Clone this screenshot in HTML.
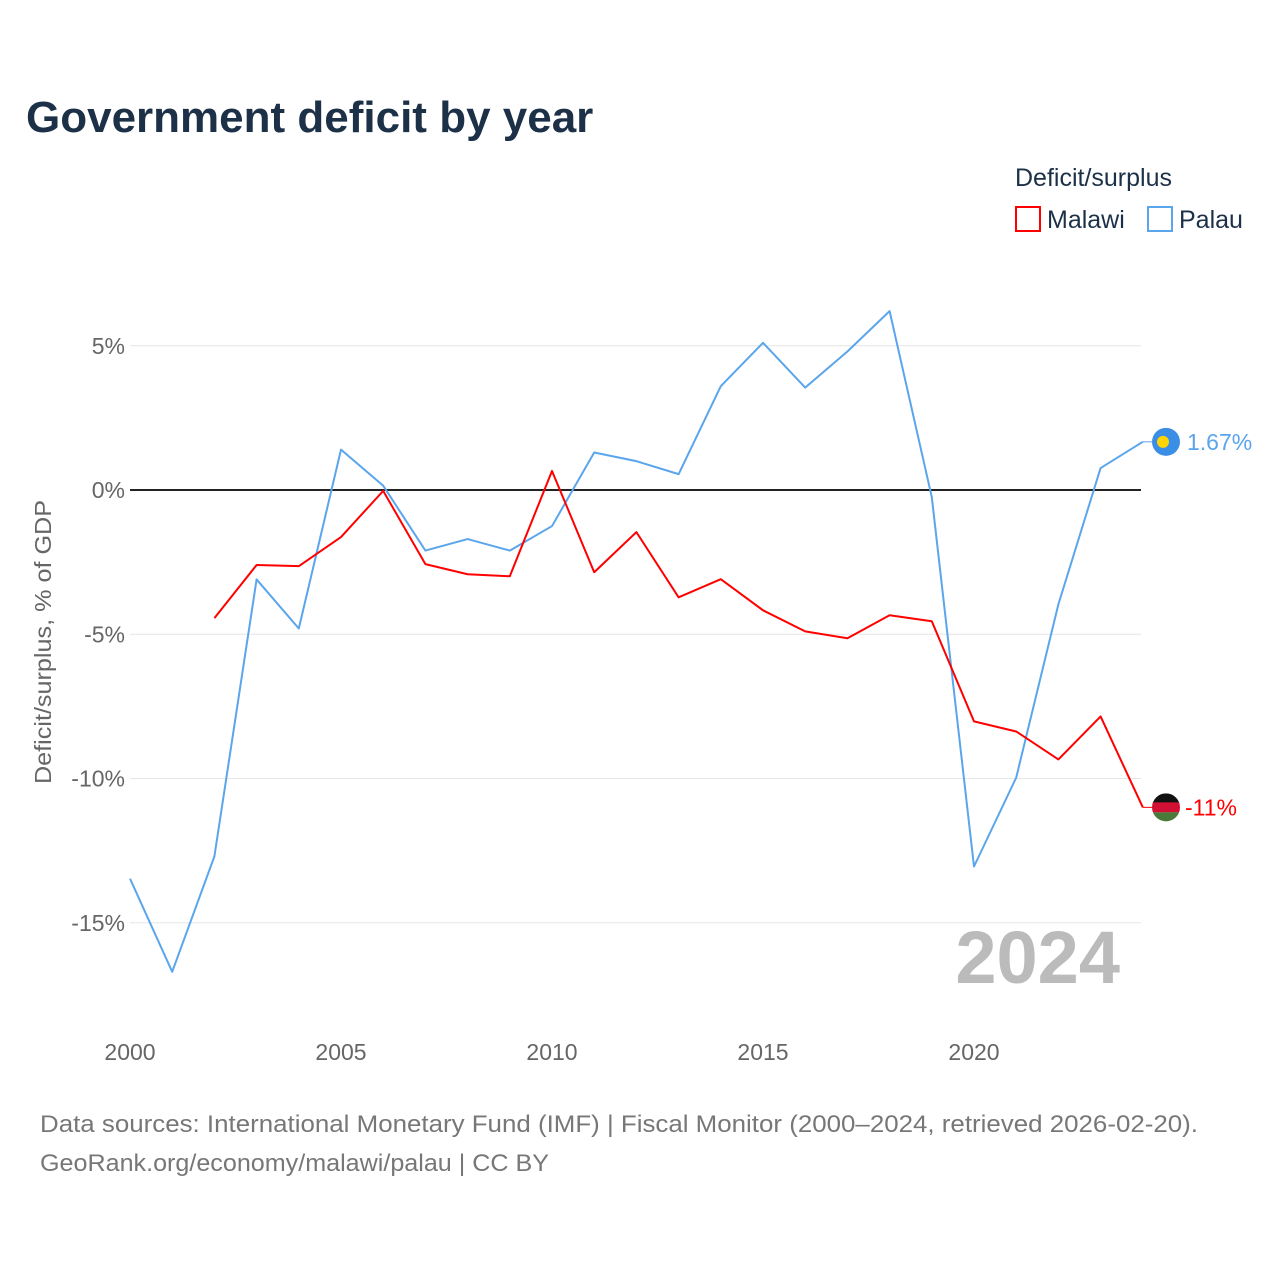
<!DOCTYPE html>
<html><head><meta charset="utf-8"><style>
body{margin:0;background:#fff;font-family:"Liberation Sans",sans-serif;}
svg{display:block}
</style></head><body>
<svg id="chart" width="1280" height="1280" viewBox="0 0 1280 1280">
<text x="26" y="132" font-size="44" font-weight="bold" fill="#1c3048">Government deficit by year</text>
<text x="1015" y="186" font-size="25" fill="#1c3048">Deficit/surplus</text>
<g><rect x="1016" y="207" width="24" height="24" fill="none" stroke="#f00" stroke-width="2"/><text x="1047" y="228" font-size="25" fill="#1c3048">Malawi</text></g>
<g><rect x="1148" y="207" width="24" height="24" fill="none" stroke="#5aa5ec" stroke-width="2"/><text x="1179" y="228" font-size="25" fill="#1c3048">Palau</text></g>
<g id="grid"></g><g id="xt"></g><g id="lines"></g>
<text transform="translate(51,642) rotate(-90)" text-anchor="middle" font-size="23" fill="#666" textLength="284" lengthAdjust="spacingAndGlyphs">Deficit/surplus, % of GDP</text>
<text x="1120" y="983" text-anchor="end" font-size="74" font-weight="bold" fill="#bbb">2024</text>
<text x="40" y="1132" font-size="24" fill="#777" textLength="1158" lengthAdjust="spacingAndGlyphs">Data sources: International Monetary Fund (IMF) | Fiscal Monitor (2000–2024, retrieved 2026-02-20).</text>
<text x="40" y="1171" font-size="24" fill="#777" textLength="509" lengthAdjust="spacingAndGlyphs">GeoRank.org/economy/malawi/palau | CC BY</text>
</svg>
<script>
const years=[2000,2001,2002,2003,2004,2005,2006,2007,2008,2009,2010,2011,2012,2013,2014,2015,2016,2017,2018,2019,2020,2021,2022,2023,2024];
const palau=[-13.47,-16.7,-12.7,-3.1,-4.8,1.4,0.15,-2.1,-1.7,-2.1,-1.25,1.3,1.0,0.55,3.6,5.1,3.55,4.8,6.2,-0.25,-13.05,-9.97,-3.96,0.76,1.67];
const malawi=[null,null,-4.44,-2.6,-2.64,-1.63,-0.03,-2.57,-2.92,-2.99,0.66,-2.85,-1.46,-3.72,-3.09,-4.17,-4.9,-5.14,-4.34,-4.55,-8.02,-8.37,-9.34,-7.85,-11.0];
const yTicks=[5,0,-5,-10,-15];
const xTicks=[2000,2005,2010,2015,2020];
const X=y=>130+(y-2000)*42.2, Y=v=>490-v*28.85;
const NS="http://www.w3.org/2000/svg";
function mk(t,a,p){const e=document.createElementNS(NS,t);for(const k in a)e.setAttribute(k,a[k]);p.appendChild(e);return e;}
const g=document.getElementById('grid');
yTicks.forEach(v=>{
 const l=mk('line',{x1:130,x2:1141,y1:Y(v),y2:Y(v),stroke:v===0?'#222':'#e6e6e6','stroke-width':v===0?2:1},g);
 
 
 const t=mk('text',{x:125,y:Y(v)+8,'text-anchor':'end','font-size':23,fill:'#666'},g);
 t.textContent=v+'%';
 
 
});
const xt=document.getElementById('xt');
xTicks.forEach(v=>{
 const t=mk('text',{x:X(v),y:1060,'text-anchor':'middle','font-size':23,fill:'#666'},xt);
 t.textContent=v;
 
 
});
const L=document.getElementById('lines');
function series(vals,col,name){
 let d='';vals.forEach((v,i)=>{if(v===null)return;d+=(d?'L':'M')+X(years[i])+','+Y(v);});
 const p=mk('path',{d:d,fill:'none',stroke:col,'stroke-width':2,'stroke-linejoin':'round'},L);
 
 
 const last=vals[vals.length-1],ly=Y(last);
 mk('line',{x1:X(2024),x2:1152,y1:ly,y2:ly,stroke:col,'stroke-width':1},L);
 return ly;
}
const py=series(palau,'#5aa5ec','palau');
const my=series(malawi,'#f00','malawi');
const pf=mk('g',{},L);


mk('circle',{cx:1166,cy:py,r:14,fill:'#3a8ee6'},pf);
mk('circle',{cx:1163,cy:py,r:6,fill:'#ffd400'},pf);
const pt=mk('text',{x:1187,y:py+8,'font-size':23,fill:'#5aa5ec'},L);
pt.textContent=palau[palau.length-1]+'%';


const mf=mk('g',{},L);


mk('clipPath',{id:'mc'},mf).appendChild(document.createElementNS(NS,'circle'));
const c=mf.querySelector('circle');c.setAttribute('cx',1166);c.setAttribute('cy',my);c.setAttribute('r',14);
mk('rect',{x:1152,y:my-14,width:28,height:10,fill:'#111','clip-path':'url(#mc)'},mf);
mk('rect',{x:1152,y:my-5,width:28,height:10,fill:'#d21034','clip-path':'url(#mc)'},mf);
mk('rect',{x:1152,y:my+5,width:28,height:10,fill:'#4a7a3a','clip-path':'url(#mc)'},mf);
const mt=mk('text',{x:1185,y:my+8,'font-size':23,fill:'#f00'},L);
mt.textContent=Math.round(malawi[malawi.length-1])+'%';


</script>
</body></html>
